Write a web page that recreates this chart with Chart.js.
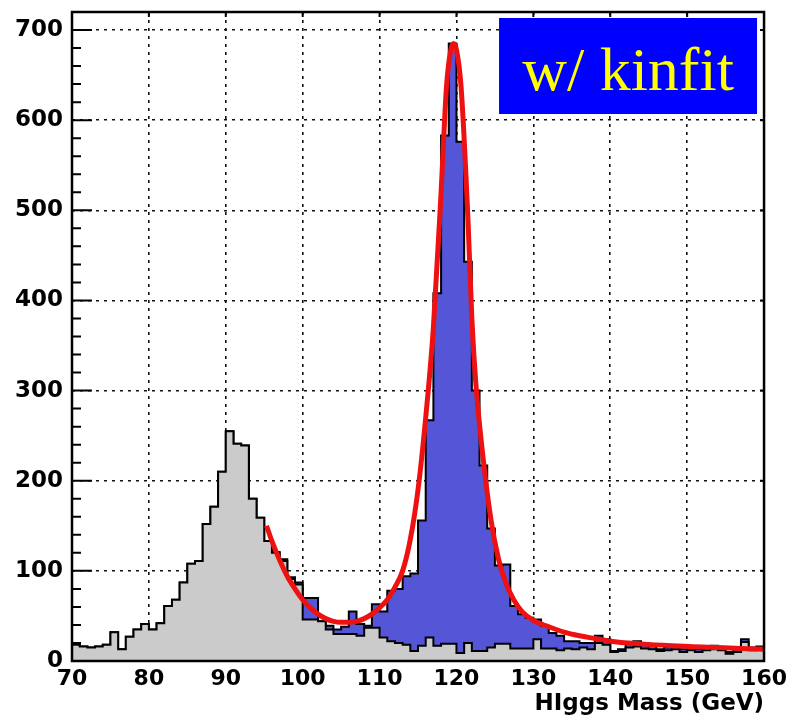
<!DOCTYPE html>
<html lang="en">
<head>
    <meta charset="UTF-8">
    <title>Higgs Mass w/ kinfit</title>
    <script src="https://cdn.jsdelivr.net/npm/chart.js"></script>
    <style>
        body {
            margin: 0;
            padding: 0;
            background-color: #fff;
        }
        .chart-box {
            width: 792px;
            height: 726px;
        }
    </style>
</head>
<body>
    <div class="chart-box">
        <canvas id="massChart"></canvas>
    </div>

    <script>
        // Bin low edges (GeV), 1 GeV bins
        const massBins = [70, 71, 72, 73, 74, 75, 76, 77, 78, 79,
            80, 81, 82, 83, 84, 85, 86, 87, 88, 89,
            90, 91, 92, 93, 94, 95, 96, 97, 98, 99,
            100, 101, 102, 103, 104, 105, 106, 107, 108, 109,
            110, 111, 112, 113, 114, 115, 116, 117, 118, 119,
            120, 121, 122, 123, 124, 125, 126, 127, 128, 129,
            130, 131, 132, 133, 134, 135, 136, 137, 138, 139,
            140, 141, 142, 143, 144, 145, 146, 147, 148, 149,
            150, 151, 152, 153, 154, 155, 156, 157, 158, 159];
        const binWidth = 1;

        // Background (grey histogram)
        const backgroundCounts = [18, 16, 15, 16, 18, 32, 13, 27, 35, 41,
            35, 42, 61, 68, 87, 108, 111, 152, 171, 210,
            255, 241, 239, 180, 159, 133, 120, 111, 91, 85,
            46, 46, 44, 35, 30, 30, 30, 28, 37, 37,
            26, 22, 20, 18, 11, 17, 26, 17, 19, 19,
            9, 20, 11, 11, 15, 19, 19, 14, 14, 14,
            24, 14, 14, 12, 14, 13, 15, 13, 20, 18,
            10, 11, 15, 16, 14, 13, 11, 12, 13, 10,
            12, 10, 12, 13, 12, 8, 10, 21, 12, 13];

        // Signal + background (blue histogram)
        const totalCounts = [18, 16, 15, 16, 18, 32, 13, 27, 35, 41,
            35, 42, 61, 68, 87, 108, 111, 152, 171, 210,
            255, 241, 239, 180, 159, 133, 121, 113, 93, 87,
            70, 70, 44, 39, 35, 38, 55, 41, 39, 63,
            55, 78, 80, 94, 97, 156, 267, 408, 583, 685,
            576, 443, 300, 217, 147, 106, 107, 61, 52, 48,
            46, 39, 31, 28, 22, 22, 20, 20, 28, 24,
            11, 13, 19, 22, 20, 17, 13, 15, 17, 13,
            15, 13, 16, 17, 15, 10, 13, 24, 15, 16];

        // Fit curve (red)
        const fitMass = [95.3, 96, 97, 98, 99, 100, 101, 102, 103, 104,
            105, 106, 107, 108, 109, 110, 111, 112, 113, 114,
            115, 116, 117, 118, 118.7, 119.2, 119.6, 120, 120.6, 121.5,
            122, 122.5, 123.4, 124.5, 125.5, 126.5, 127.5, 128.5, 130, 132,
            134, 136, 138, 140, 144, 148, 154, 160];
        const fitValues = [150, 133, 112, 94, 80, 68, 59, 52, 47, 44,
            43, 43, 44, 47, 52, 59, 68, 82, 100, 135,
            190, 270, 370, 520, 637, 675, 685, 678, 637, 489,
            380, 310, 230, 156, 112, 85, 67, 55, 45, 38,
            32, 28, 25, 22, 19, 17, 15, 13];

        const xTicks = [70, 80, 90, 100, 110, 120, 130, 140, 150, 160];
        const yTicks = [0, 100, 200, 300, 400, 500, 600, 700];

        function histPoints(counts) {
            const pts = massBins.map((m, i) => ({ x: m, y: counts[i] }));
            const last = massBins.length - 1;
            pts.push({ x: massBins[last] + binWidth, y: counts[last] });
            return pts;
        }

        // frame, inward ticks and the label box
        const rootStyle = {
            id: 'rootStyle',
            afterDatasetsDraw(chart) {
                const { ctx, chartArea: a, scales } = chart;
                const x = scales.x, y = scales.y;
                ctx.save();
                ctx.strokeStyle = '#000';
                ctx.lineWidth = 2;
                ctx.setLineDash([]);
                ctx.beginPath();
                for (let v = 0; v <= 720; v += 20) {
                    const py = y.getPixelForValue(v);
                    const len = v % 100 === 0 ? 20 : 9;
                    ctx.moveTo(a.left, py);
                    ctx.lineTo(a.left + len, py);
                    if (v % 100 === 0) {
                        ctx.moveTo(a.right, py);
                        ctx.lineTo(a.right - 4, py);
                    }
                }
                xTicks.forEach(t => {
                    const px = x.getPixelForValue(t);
                    ctx.moveTo(px, a.top);
                    ctx.lineTo(px, a.top + 5);
                });
                ctx.stroke();
                ctx.lineWidth = 2.5;
                ctx.strokeRect(a.left, a.top, a.right - a.left, a.bottom - a.top);

                // "w/ kinfit" box
                const bw = 258, bh = 96;
                const bx = a.right - 7 - bw, by = a.top + 6;
                ctx.fillStyle = '#0000ff';
                ctx.fillRect(bx, by, bw, bh);
                ctx.fillStyle = '#ffff00';
                ctx.font = '62px "Liberation Serif", "DejaVu Serif", serif';
                ctx.textAlign = 'center';
                ctx.textBaseline = 'alphabetic';
                ctx.fillText('w/ kinfit', bx + bw / 2, by + 72);
                ctx.restore();
            }
        };

        const ctx = document.getElementById('massChart').getContext('2d');
        const massChart = new Chart(ctx, {
            type: 'line',
            data: {
                datasets: [
                    {
                        label: 'fit',
                        data: fitMass.map((m, i) => ({ x: m, y: fitValues[i] })),
                        borderColor: '#ee1111',
                        borderWidth: 5,
                        pointRadius: 0,
                        cubicInterpolationMode: 'monotone',
                        fill: false,
                        order: 0
                    },
                    {
                        label: 'background',
                        data: histPoints(backgroundCounts),
                        stepped: true,
                        borderColor: '#000',
                        borderWidth: 2,
                        backgroundColor: '#cbcbcb',
                        pointRadius: 0,
                        fill: 'origin',
                        order: 1
                    },
                    {
                        label: 'total',
                        data: histPoints(totalCounts),
                        stepped: true,
                        borderColor: '#000',
                        borderWidth: 2,
                        backgroundColor: '#5555d8',
                        pointRadius: 0,
                        fill: 'origin',
                        order: 2
                    }
                ]
            },
            options: {
                responsive: true,
                maintainAspectRatio: false,
                animation: false,
                layout: { padding: { left: 0, right: 22, top: 12, bottom: 0 } },
                plugins: {
                    legend: { display: false },
                    tooltip: { enabled: false }
                },
                scales: {
                    x: {
                        type: 'linear',
                        min: 70,
                        max: 160,
                        afterBuildTicks: axis => { axis.ticks = xTicks.map(v => ({ value: v })); },
                        afterFit: scale => { scale.height = 65; },
                        grid: { color: '#111', lineWidth: 1.6, drawTicks: false },
                        border: { display: false, dash: [3, 5] },
                        ticks: {
                            color: '#000',
                            font: { family: '"DejaVu Sans", sans-serif', size: 22, weight: 'bold' },
                            padding: 5,
                            maxRotation: 0
                        },
                        title: {
                            display: true,
                            text: 'HIggs Mass (GeV)',
                            align: 'end',
                            color: '#000',
                            font: { family: '"DejaVu Sans", sans-serif', size: 23, weight: 'bold' },
                            padding: { top: 0, bottom: 8 }
                        }
                    },
                    y: {
                        min: 0,
                        max: 720,
                        afterBuildTicks: axis => { axis.ticks = yTicks.map(v => ({ value: v })); },
                        afterFit: scale => {
                            scale.width = 72;
                            scale.paddingTop = 0;
                            scale.paddingBottom = 0;
                        },
                        grid: { color: '#111', lineWidth: 1.6, drawTicks: false },
                        border: { display: false, dash: [3, 5] },
                        ticks: {
                            color: '#000',
                            font: { family: '"DejaVu Sans", sans-serif', size: 23, weight: 'bold' },
                            padding: 9
                        }
                    }
                }
            },
            plugins: [rootStyle]
        });
    </script>
</body>
</html>
